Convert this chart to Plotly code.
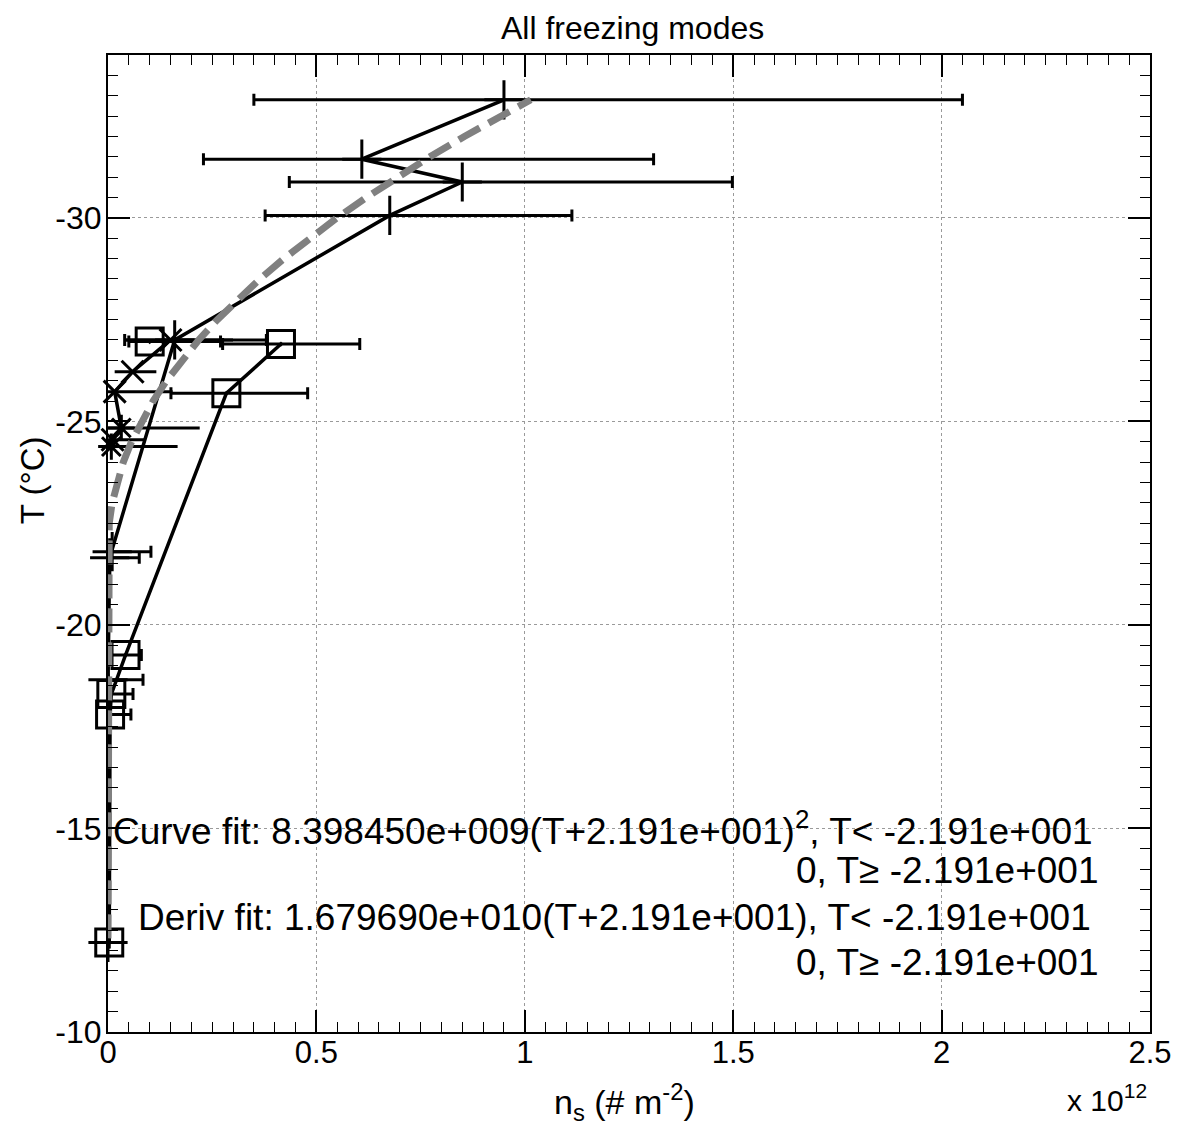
import plotly.graph_objects as go

# ---------------- data (n_s in units of 1e12 m^-2, T in deg C) ----------------
# Series A: "+" markers
T_A = [-32.9, -31.44, -30.88, -30.06, -27.0, -21.8, -21.65, -18.65, -12.2]
ns_A = [0.95, 0.609, 0.85, 0.676, 0.16, 0.01, 0.004, 0.0, 0.0]
lo_A = [0.35, 0.229, 0.435, 0.377, 0.04, 0.0, 0.0, 0.0, None]
hi_A = [2.05, 1.309, 1.498, 1.113, 0.38, 0.103, 0.075, 0.084, None]

# Series B: open squares (connected)
T_B = [-26.9, -25.69, -19.26, -18.3, -17.8, -12.2]
ns_B = [0.415, 0.284, 0.042, 0.008, 0.005, 0.003]
lo_B = [0.275, 0.151, 0.0, 0.0, 0.0, None]
hi_B = [0.604, 0.479, 0.08, 0.06, 0.055, None]

# Series C: "x" / asterisk markers
T_C = [-27.0, -26.22, -25.73, -24.84, -24.55, -24.38]
ns_C = [0.15, 0.059, 0.016, 0.032, 0.011, 0.008]
lo_C = [0.04, 0.016, 0.0, 0.0, 0.0, 0.0]
hi_C = [0.30, 0.116, 0.155, 0.22, 0.087, 0.167]
sym_C = ["x-thin", "x-thin", "x-thin", "asterisk-open", "x-thin", "asterisk-open"]

# Series D: single open square
T_D = [-26.96]
ns_D = [0.10]
lo_D = [0.05]
hi_D = [0.27]

# Curve fit: 8.398450e+009 (T+21.91)^2 for T < -21.91, 0 otherwise (values in 1e12)
fit_T = [-12.3, -21.91, -22.5, -23.0, -23.5, -24.0, -24.5, -25.0, -25.5, -26.0,
         -26.5, -27.0, -27.5, -28.0, -28.5, -29.0, -29.5, -30.0, -30.5, -31.0,
         -31.5, -32.0, -32.5, -32.9]
fit_ns = [0.0, 0.0, 0.00292, 0.00998, 0.02123, 0.03669, 0.05634, 0.08019, 0.10824,
          0.14049, 0.17694, 0.21759, 0.26244, 0.31148, 0.36473, 0.42217, 0.48382,
          0.54966, 0.61970, 0.69394, 0.77239, 0.85503, 0.94188, 1.01437]

x_tickvals = [0, 0.5, 1, 1.5, 2, 2.5]
x_ticktext = ["0", "0.5", "1", "1.5", "2", "2.5"]
y_tickvals = [-10, -15, -20, -25, -30]
y_ticktext = ["-10", "-15", "-20", "-25", "-30"]

TITLE = "All freezing modes"
ANN_LINES = [
    "Curve fit: 8.398450e+009(T+2.191e+001)<sup>2</sup>, T< -2.191e+001",
    "0, T\u2265 -2.191e+001",
    "Deriv fit: 1.679690e+010(T+2.191e+001), T< -2.191e+001",
    "0, T\u2265 -2.191e+001",
]

# ---------------- figure ----------------
OFF = 8                      # default page body margin
W, H = 1184 - OFF, 1144 - OFF
L, R, T, B = 108 - OFF, 31, 55 - OFF, 112
PW, PH = W - L - R, H - T - B
FONT = "Liberation Sans, Arial, Helvetica, sans-serif"


def px2paper_x(px):
    return (px - OFF - L) / PW


def px2paper_y(py):
    return (H - B - (py - OFF)) / PH


def err(ns, lo, hi):
    return dict(type="data", symmetric=False,
                array=[None if h is None else h - v for v, h in zip(ns, hi)],
                arrayminus=[None if l is None else v - l for v, l in zip(ns, lo)],
                color="black", thickness=3, width=6)


fig = go.Figure()

fig.add_trace(go.Scatter(
    x=ns_A, y=T_A, mode="lines+markers",
    line=dict(color="black", width=3.5),
    marker=dict(symbol="cross-thin-open", size=28, color="black",
                line=dict(color="black", width=3)),
    error_x=err(ns_A, lo_A, hi_A), cliponaxis=False, showlegend=False))

fig.add_trace(go.Scatter(
    x=ns_B, y=T_B, mode="lines+markers",
    line=dict(color="black", width=3.5),
    marker=dict(symbol="square-open-dot", size=27, color="black",
                line=dict(color="black", width=3)),
    error_x=err(ns_B, lo_B, hi_B), cliponaxis=False, showlegend=False))

errC = err(ns_C, lo_C, hi_C)
errC["width"] = 0
fig.add_trace(go.Scatter(
    x=ns_C, y=T_C, mode="lines+markers",
    line=dict(color="black", width=3.5),
    marker=dict(symbol=sym_C, size=22, color="black",
                line=dict(color="black", width=3)),
    error_x=errC, cliponaxis=False, showlegend=False))

fig.add_trace(go.Scatter(
    x=ns_D, y=T_D, mode="markers",
    marker=dict(symbol="square-open-dot", size=27, color="black",
                line=dict(color="black", width=3)),
    error_x=err(ns_D, lo_D, hi_D), cliponaxis=False, showlegend=False))

fig.add_trace(go.Scatter(
    x=fit_ns, y=fit_T, mode="lines",
    line=dict(color="#808080", width=7, dash="24px,10px"),
    cliponaxis=False, showlegend=False))

axis_common = dict(
    showline=True, linecolor="black", linewidth=2, mirror="ticks",
    ticks="inside", ticklen=22, tickwidth=1.5, tickcolor="black",
    showgrid=True, gridcolor="#9a9a9a", gridwidth=1, griddash="dot",
    zeroline=False,
)

fig.update_xaxes(
    range=[0, 2.5], tickvals=x_tickvals, ticktext=x_ticktext,
    tickfont=dict(family=FONT, size=31, color="black"), ticklabelstandoff=-8,
    minor=dict(ticks="inside", ticklen=10, tickwidth=1.2, tickcolor="black",
               dtick=0.05, tick0=0, showgrid=False),
    **axis_common)
fig.update_yaxes(
    range=[-10, -34], tickvals=y_tickvals, ticktext=y_ticktext,
    tickfont=dict(family=FONT, size=32, color="black"), ticklabelstandoff=-2,
    minor=dict(ticks="inside", ticklen=10, tickwidth=1.2, tickcolor="black",
               dtick=0.5, tick0=-10, showgrid=False),
    **axis_common)

annotations = [
    dict(text=TITLE, x=px2paper_x(634), y=px2paper_y(28), xref="paper", yref="paper",
         xanchor="center", yanchor="middle", showarrow=False,
         font=dict(family=FONT, size=32, color="black")),
    dict(text="T (\u00b0C)", x=px2paper_x(32), y=px2paper_y(480), xref="paper", yref="paper",
         xanchor="center", yanchor="middle", showarrow=False, textangle=-90,
         font=dict(family=FONT, size=33, color="black")),
    dict(text="n<sub>s</sub> (# m<sup>-2</sup>)", x=px2paper_x(626), y=px2paper_y(1102),
         xref="paper", yref="paper", xanchor="center", yanchor="middle", showarrow=False,
         font=dict(family=FONT, size=34, color="black")),
    dict(text="x 10<sup>12</sup>", x=px2paper_x(1152), y=px2paper_y(1098),
         xref="paper", yref="paper", xanchor="right", yanchor="middle", showarrow=False,
         font=dict(family=FONT, size=30, color="black")),
]
ann_pos = [(1098, 828), (1104, 870), (1096, 917), (1104, 962)]
for txt, (ax, ay) in zip(ANN_LINES, ann_pos):
    annotations.append(dict(
        text=txt, x=px2paper_x(ax), y=px2paper_y(ay), xref="paper", yref="paper",
        xanchor="right", yanchor="middle", showarrow=False,
        font=dict(family=FONT, size=37, color="black")))

fig.update_layout(
    width=W, height=H, margin=dict(l=L, r=R, t=T, b=B, pad=0),
    paper_bgcolor="white", plot_bgcolor="white",
    font=dict(family=FONT, color="black"),
    annotations=annotations,
)

fig.write_html("out.html")
